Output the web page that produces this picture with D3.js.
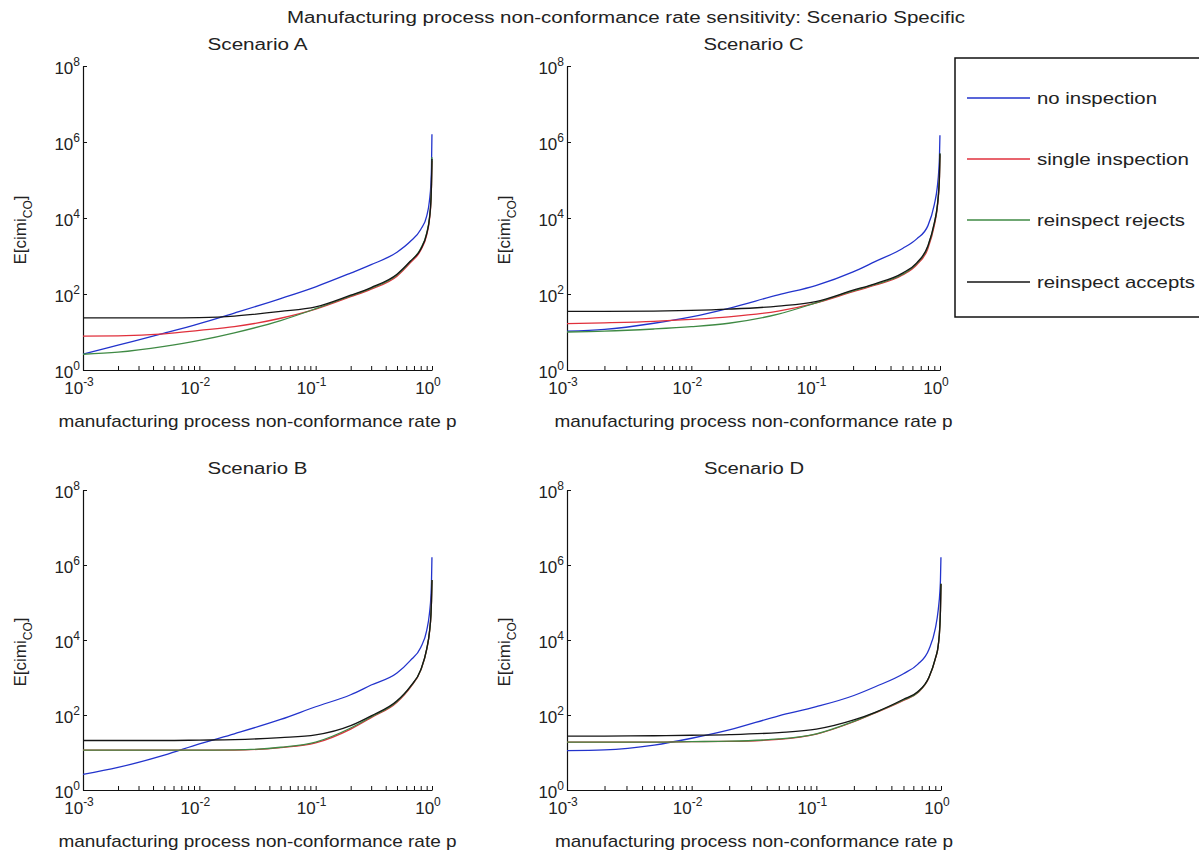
<!DOCTYPE html>
<html>
<head>
<meta charset="utf-8">
<script src="https://cdn.jsdelivr.net/npm/d3@7"></script>
<style>
body { margin: 0; background: #fff; }
text { font-family: "Liberation Sans", Arial, sans-serif; fill: #222; }
</style>
</head>
<body>
<svg width="1199" height="854"></svg>
<script>

// non-conformance rate p (x values shared by all curves)
const pRate = [0.001, 0.002, 0.005, 0.01, 0.02, 0.05, 0.1, 0.2, 0.3, 0.5, 0.65, 0.8, 0.9, 0.95, 0.98, 0.99, 0.999];

const seriesNames = ["no inspection", "single inspection", "reinspect rejects", "reinspect accepts"];
const seriesColors = ["#2233cc", "#e0303c", "#3f8a44", "#151515"];

// Scenario A
const aNone    = [2.6, 4.5, 9.3, 16.6, 31.6, 76, 155, 355, 590, 1260, 2400, 5000, 11200, 28000, 89000, 224000, 1.6e6];
const aSingle  = [7.8, 7.9, 8.9, 11, 13.8, 23, 40, 85, 135, 295, 660, 1410, 3550, 8900, 28000, 71000, 316000];
const aRejects = [2.6, 2.95, 4.2, 6, 9.5, 20, 41, 89, 141, 316, 710, 1580, 4000, 10000, 31600, 79000, 400000];
const aAccepts = [23.4, 23.4, 23.4, 24, 26.3, 34.7, 45.7, 93, 148, 331, 725, 1510, 3800, 9550, 31600, 79000, 355000];

// Scenario C
const cNone    = [10.5, 11.7, 17, 25, 42, 95, 166, 380, 710, 1580, 2820, 6300, 22400, 63000, 200000, 400000, 1.5e6];
const cSingle  = [16.6, 17.4, 19, 21.4, 25, 35.5, 57.5, 115, 170, 316, 590, 1580, 6300, 17800, 56000, 112000, 447000];
const cRejects = [10, 10.5, 12, 13.8, 17, 29.5, 58, 120, 178, 330, 630, 1780, 7100, 20000, 63000, 126000, 500000];
const cAccepts = [34.7, 34.7, 35.5, 37, 40, 48, 63, 126, 186, 355, 660, 1860, 7400, 20000, 63000, 126000, 500000];

// Scenario B
const bNone    = [2.6, 4, 8.5, 17, 31.6, 76, 166, 347, 630, 1320, 2820, 6300, 17800, 50000, 158000, 355000, 1.6e6];
const bSingle  = [11.5, 11.5, 11.5, 11.5, 11.6, 13.5, 18, 42, 85, 220, 540, 1550, 5500, 15500, 49000, 110000, 390000];
const bRejects = [11.5, 11.5, 11.5, 11.5, 11.7, 13.8, 19, 45, 89, 229, 560, 1580, 5600, 15800, 50000, 112000, 400000];
const bAccepts = [20.9, 20.9, 20.9, 21.4, 22, 25, 29.5, 52, 95, 240, 575, 1600, 5700, 16000, 50000, 112000, 400000];

// Scenario D
const dNone    = [11.2, 11.7, 15.8, 24, 40, 95, 166, 331, 575, 1260, 2240, 5600, 20000, 63000, 200000, 400000, 1.6e6];
const dSingle  = [19, 19, 19, 19.5, 19.8, 22.5, 31, 66, 115, 245, 390, 980, 3100, 7000, 25000, 62000, 310000];
const dRejects = [19, 19, 19, 19.5, 20, 23, 31.6, 68, 117, 251, 400, 1000, 3160, 7100, 25100, 63000, 316000];
const dAccepts = [27.5, 27.5, 28, 28.8, 30, 34, 42, 74, 120, 263, 417, 1020, 3200, 7200, 25100, 63000, 316000];

const xTickExp = [-3, -2, -1, 0];
const yTickExp = [0, 2, 4, 6, 8];

const svg = d3.select("svg");

const panels = [
  {title: "Scenario A", series: [aNone, aSingle, aRejects, aAccepts], x0: 83, x1: 432, yTop: 66, yBot: 370},
  {title: "Scenario C", series: [cNone, cSingle, cRejects, cAccepts], x0: 567, x1: 940, yTop: 66, yBot: 370},
  {title: "Scenario B", series: [bNone, bSingle, bRejects, bAccepts], x0: 83, x1: 432, yTop: 490, yBot: 790},
  {title: "Scenario D", series: [dNone, dSingle, dRejects, dAccepts], x0: 567, x1: 941, yTop: 490, yBot: 790}
];

// "10" with a superscript exponent
function powerLabel(sel, e) {
  sel.text("10");
  sel.append("tspan").attr("dy", -8).attr("font-size", 12).text(e);
}

svg.append("text")
  .attr("x", 626).attr("y", 23)
  .attr("text-anchor", "middle")
  .attr("font-size", 16)
  .attr("textLength", 678).attr("lengthAdjust", "spacingAndGlyphs")
  .text("Manufacturing process non-conformance rate sensitivity: Scenario Specific");

panels.forEach(function(pn) {
  const x = d3.scaleLog().domain([1e-3, 1]).range([pn.x0, pn.x1]);
  const y = d3.scaleLog().domain([1, 1e8]).range([pn.yBot, pn.yTop]);
  const g = svg.append("g");
  const cx = (pn.x0 + pn.x1) / 2;

  // axes, ticks pointing inward
  g.append("g").attr("transform", "translate(0," + pn.yBot + ")")
    .call(d3.axisBottom(x).tickValues(x.ticks()).tickSize(-4).tickSizeOuter(0).tickFormat(""));
  g.append("g").attr("transform", "translate(" + pn.x0 + ",0)")
    .call(d3.axisLeft(y).tickValues(yTickExp.map(e => Math.pow(10, e))).tickSize(-4).tickSizeOuter(0).tickFormat(""));
  g.selectAll(".domain").attr("stroke", "#111").attr("stroke-width", 1.2);
  g.selectAll(".tick line").attr("stroke", "#111");

  xTickExp.forEach(function(e) {
    g.append("text")
      .attr("x", x(Math.pow(10, e)) - 4).attr("y", pn.yBot + 24)
      .attr("text-anchor", "middle").attr("font-size", 17)
      .call(powerLabel, e);
  });
  yTickExp.forEach(function(e) {
    g.append("text")
      .attr("x", pn.x0 - 3).attr("y", y(Math.pow(10, e)) + 8)
      .attr("text-anchor", "end").attr("font-size", 17)
      .call(powerLabel, e);
  });

  g.append("text")
    .attr("x", cx).attr("y", pn.yTop - 16)
    .attr("text-anchor", "middle").attr("font-size", 16)
    .attr("textLength", 100).attr("lengthAdjust", "spacingAndGlyphs")
    .text(pn.title);

  g.append("text")
    .attr("x", cx).attr("y", pn.yBot + 57)
    .attr("text-anchor", "middle").attr("font-size", 17)
    .attr("textLength", 398).attr("lengthAdjust", "spacingAndGlyphs")
    .text("manufacturing process non-conformance rate p");

  const yl = g.append("text")
    .attr("transform", "translate(" + (pn.x0 - 57) + "," + ((pn.yTop + pn.yBot) / 2 + 12) + ") rotate(-90)")
    .attr("text-anchor", "middle").attr("font-size", 17);
  yl.append("tspan").text("E[cimi");
  yl.append("tspan").attr("dy", 6).attr("font-size", 12).text("CO");
  yl.append("tspan").attr("dy", -6).text("]");

  const line = d3.line()
    .x(d => x(d[0]))
    .y(d => y(d[1]))
    .curve(d3.curveMonotoneX);

  pn.series.forEach(function(vals, i) {
    g.append("path")
      .datum(pRate.map((p, k) => [p, vals[k]]))
      .attr("fill", "none")
      .attr("stroke", seriesColors[i])
      .attr("stroke-width", 1.3)
      .attr("d", line);
  });
});

// legend
const lg = svg.append("g");
lg.append("rect")
  .attr("x", 955).attr("y", 58).attr("width", 260).attr("height", 259)
  .attr("fill", "#fff").attr("stroke", "#111").attr("stroke-width", 1.5);
const legendRows = [98, 159, 220, 282];
const legendWidths = [120, 152, 148, 158];
seriesNames.forEach(function(nm, i) {
  lg.append("line")
    .attr("x1", 967).attr("x2", 1030)
    .attr("y1", legendRows[i]).attr("y2", legendRows[i])
    .attr("stroke", seriesColors[i]).attr("stroke-width", 1.3);
  lg.append("text")
    .attr("x", 1037).attr("y", legendRows[i] + 6)
    .attr("font-size", 17)
    .attr("textLength", legendWidths[i]).attr("lengthAdjust", "spacingAndGlyphs")
    .text(nm);
});

</script>
</body>
</html>
